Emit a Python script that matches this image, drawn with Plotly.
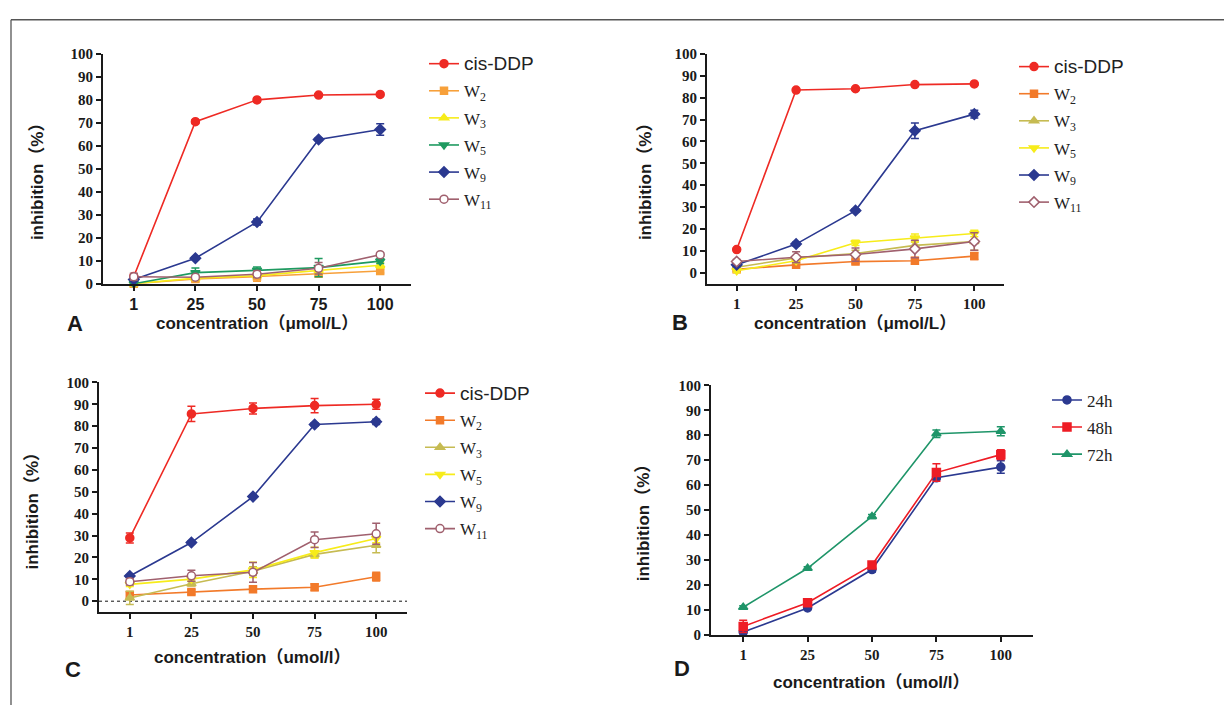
import plotly.graph_objects as go

W, H = 1224, 713
conc_labels = ["1", "25", "50", "75", "100"]
y_ticks = [0, 10, 20, 30, 40, 50, 60, 70, 80, 90, 100]

# ---------------- Panel A ----------------
a_cis = [3.1, 70.5, 80.0, 82.1, 82.4]
a_cis_err = [1.0, 0.8, 0.8, 0.6, 0.6]
a_w2 = [0.0, 2.0, 3.1, 4.3, 5.5]
a_w2_err = [0.5, 1.0, 2.0, 1.0, 0.8]
a_w3 = [0.0, 2.4, 3.5, 5.8, 8.0]
a_w3_err = [0.5, 1.0, 1.0, 1.5, 1.2]
a_w5 = [0.0, 4.8, 5.8, 7.0, 9.8]
a_w5_err = [0.5, 2.0, 1.5, 4.0, 1.0]
a_w9 = [1.8, 11.1, 26.8, 62.8, 67.1]
a_w9_err = [0.5, 0.6, 1.3, 0.6, 2.5]
a_w11 = [3.0, 2.8, 4.1, 6.7, 12.6]
a_w11_err = [1.5, 1.0, 1.5, 2.5, 0.8]

# ---------------- Panel B ----------------
b_cis = [10.6, 83.5, 84.1, 86.0, 86.3]
b_cis_err = [0.6, 0.6, 0.6, 0.5, 0.5]
b_w2 = [1.6, 3.6, 5.1, 5.5, 7.6]
b_w2_err = [0.8, 0.8, 1.0, 1.5, 1.5]
b_w3 = [2.5, 6.8, 8.8, 12.5, 14.3]
b_w3_err = [1.0, 1.0, 1.5, 1.5, 4.0]
b_w5 = [0.9, 5.5, 13.7, 15.9, 17.9]
b_w5_err = [0.8, 1.0, 1.2, 1.8, 1.5]
b_w9 = [3.6, 13.1, 28.4, 64.9, 72.5]
b_w9_err = [0.8, 0.8, 0.8, 3.5, 1.8]
b_w11 = [5.1, 7.1, 8.3, 10.9, 14.3]
b_w11_err = [1.0, 2.5, 3.0, 4.0, 4.0]

# ---------------- Panel C ----------------
c_cis = [28.9, 85.6, 88.1, 89.4, 90.0]
c_cis_err = [2.3, 3.5, 2.5, 3.3, 2.3]
c_w2 = [2.8, 4.2, 5.5, 6.4, 11.2]
c_w2_err = [1.5, 1.0, 1.0, 1.5, 2.0]
c_w3 = [1.5, 8.0, 13.7, 21.4, 25.6]
c_w3_err = [3.0, 1.0, 2.0, 1.5, 3.5]
c_w5 = [7.7, 10.1, 14.3, 22.2, 28.7]
c_w5_err = [1.0, 1.0, 3.5, 2.5, 2.0]
c_w9 = [11.5, 26.8, 47.8, 80.8, 82.0]
c_w9_err = [0.6, 0.6, 0.8, 0.8, 1.2]
c_w11 = [8.9, 11.6, 13.2, 28.1, 30.8]
c_w11_err = [1.5, 2.5, 4.5, 3.5, 4.8]

# ---------------- Panel D ----------------
d_24h = [1.0, 10.7, 26.1, 62.9, 67.2]
d_24h_err = [0.8, 0.6, 1.0, 0.8, 2.5]
d_48h = [3.3, 12.8, 27.9, 65.0, 72.2]
d_48h_err = [2.5, 1.0, 1.0, 3.5, 2.0]
d_72h = [11.0, 26.6, 47.4, 80.6, 81.6]
d_72h_err = [0.6, 0.6, 0.8, 1.5, 1.8]

RED = "#ee2a24"
ORANGE_A = "#f7a03a"
ORANGE = "#f27a2a"
YELLOW = "#f7ec1a"
OLIVE = "#c6bb52"
GREEN = "#1f9a60"
NAVY = "#2b3990"
MAUVE = "#a0606e"
GREEN_D = "#1f9569"

CIS = '<span style="font-family:Liberation Sans, Arial, sans-serif;font-size:19px">cis-DDP</span>'


def sub(n):
    return "W<sub>%s</sub>" % n


fig = go.Figure()


def add(panel, name, ys, errs, color, symbol, legend, group, size=8, fill=True):
    xa = "x" if panel == 1 else "x%d" % panel
    ya = "y" if panel == 1 else "y%d" % panel
    fig.add_trace(go.Scatter(
        x=conc_labels, y=ys, name=name, mode="lines+markers",
        xaxis=xa, yaxis=ya, legend=legend, legendgroup=group,
        line=dict(color=color, width=1.6),
        marker=dict(symbol=symbol, size=size, color=color if fill else "white",
                    line=dict(color=color, width=1.5)),
        error_y=dict(type="data", array=errs, visible=True, color=color,
                     thickness=1.5, width=4),
        cliponaxis=False,
    ))


# Panel A
add(1, CIS, a_cis, a_cis_err, RED, "circle", "legend", "a1")
add(1, sub(2), a_w2, a_w2_err, ORANGE_A, "square", "legend", "a2", size=7)
add(1, sub(3), a_w3, a_w3_err, YELLOW, "triangle-up", "legend", "a3")
add(1, sub(5), a_w5, a_w5_err, GREEN, "triangle-down", "legend", "a4")
add(1, sub(9), a_w9, a_w9_err, NAVY, "diamond", "legend", "a5", size=8)
add(1, sub(11), a_w11, a_w11_err, MAUVE, "circle", "legend", "a6", fill=False)
# Panel B
add(2, CIS, b_cis, b_cis_err, RED, "circle", "legend2", "b1")
add(2, sub(2), b_w2, b_w2_err, ORANGE, "square", "legend2", "b2", size=7)
add(2, sub(3), b_w3, b_w3_err, OLIVE, "triangle-up", "legend2", "b3")
add(2, sub(5), b_w5, b_w5_err, YELLOW, "triangle-down", "legend2", "b4")
add(2, sub(9), b_w9, b_w9_err, NAVY, "diamond", "legend2", "b5", size=8)
add(2, sub(11), b_w11, b_w11_err, MAUVE, "diamond", "legend2", "b6", size=8, fill=False)
# Panel C
add(3, CIS, c_cis, c_cis_err, RED, "circle", "legend3", "c1")
add(3, sub(2), c_w2, c_w2_err, ORANGE, "square", "legend3", "c2", size=7)
add(3, sub(3), c_w3, c_w3_err, OLIVE, "triangle-up", "legend3", "c3")
add(3, sub(5), c_w5, c_w5_err, YELLOW, "triangle-down", "legend3", "c4")
add(3, sub(9), c_w9, c_w9_err, NAVY, "diamond", "legend3", "c5", size=8)
add(3, sub(11), c_w11, c_w11_err, MAUVE, "circle", "legend3", "c6", fill=False)
# Panel D
add(4, "24h", d_24h, d_24h_err, NAVY, "circle", "legend4", "d1")
add(4, "48h", d_48h, d_48h_err, "#ee1c25", "square", "legend4", "d2")
add(4, "72h", d_72h, d_72h_err, GREEN_D, "triangle-up", "legend4", "d3")


def px_x(v):
    return v / W


def px_y(v):
    return 1 - v / H


SERIF_B = dict(family="Liberation Serif, Times New Roman, serif", size=15, color="#1a1a1a", weight="bold")
SANS_B = dict(family="Liberation Sans, Arial, sans-serif", size=16, color="#1a1a1a", weight="bold")


def xax(domain, anchor, tickfont):
    return dict(domain=[px_x(domain[0]), px_x(domain[1])], anchor=anchor, type="category",
                range=[-0.5, 4.5], showline=True, linewidth=2, linecolor="#1a1a1a",
                ticks="outside", ticklen=5, tickwidth=2, tickcolor="#1a1a1a",
                showgrid=False, zeroline=False, tickfont=tickfont, fixedrange=True)


def yax(domain, anchor, rng):
    return dict(domain=[px_y(domain[1]), px_y(domain[0])], anchor=anchor,
                range=rng, showline=True, linewidth=2, linecolor="#1a1a1a",
                ticks="outside", ticklen=5, tickwidth=2, tickcolor="#1a1a1a",
                tickvals=y_ticks, showgrid=False, zeroline=False,
                tickfont=SERIF_B, fixedrange=True)


legend_common = dict(font=dict(family="Liberation Serif, Times New Roman, serif", size=17, color="#222"),
                     bgcolor="rgba(0,0,0,0)", tracegroupgap=2, xanchor="left", yanchor="top",
                     itemclick=False, itemdoubleclick=False)

fig.update_layout(
    width=W, height=H, margin=dict(l=0, r=0, t=0, b=0),
    paper_bgcolor="white", plot_bgcolor="white", showlegend=True,
    xaxis=xax((103, 411), "y", SANS_B),
    yaxis=yax((47, 282), "x", [0, 100]),
    xaxis2=xax((707, 1004), "y2", SERIF_B),
    yaxis2=yax((47, 282), "x2", [-5, 100]),
    xaxis3=xax((99, 407), "y3", SERIF_B),
    yaxis3=yax((383, 618), "x3", [-5, 100]),
    xaxis4=xax((711, 1033), "y4", SERIF_B),
    yaxis4=yax((386, 641), "x4", [0, 100]),
    legend=dict(x=px_x(424), y=px_y(39), **legend_common),
    legend2=dict(x=px_x(1014), y=px_y(42), **legend_common),
    legend3=dict(x=px_x(420), y=px_y(376), **legend_common),
    legend4=dict(x=px_x(1047), y=px_y(383), **legend_common),
)

# dotted zero line in panel C
fig.add_shape(type="line", xref="x3", yref="y3", x0=-0.5, x1=4.5, y0=0, y1=0,
              line=dict(color="#111", width=1, dash="dot"), layer="below")

# outer frame (top and left edges)
fig.add_shape(type="line", xref="paper", yref="paper", x0=px_x(11), x1=1, y0=px_y(12), y1=px_y(12),
              line=dict(color="#555", width=1.3))
fig.add_shape(type="line", xref="paper", yref="paper", x0=px_x(11), x1=px_x(11), y0=0, y1=px_y(12),
              line=dict(color="#555", width=1.3))

TITLE_FONT = dict(family="Liberation Sans, Arial, Noto Sans CJK SC, sans-serif", size=17, color="#1a1a1a", weight="bold")
LABEL_FONT = dict(family="Liberation Sans, Arial, sans-serif", size=22, color="#1a1a1a", weight="bold")

texts = [
    ("inhibition（%）", 37, 173, -90, TITLE_FONT),
    ("concentration（μmol/L）", 257, 323, 0, TITLE_FONT),
    ("inhibition（%）", 645, 173, -90, TITLE_FONT),
    ("concentration（μmol/L）", 855, 323, 0, TITLE_FONT),
    ("inhibition（%）", 33, 510, -90, TITLE_FONT),
    ("concentration（umol/l）", 252, 664, 0, TITLE_FONT),
    ("inhibition（%）", 643, 522, -90, TITLE_FONT),
    ("concentration（umol/l）", 871, 690, 0, TITLE_FONT),
    ("A", 75, 323, 0, LABEL_FONT),
    ("B", 680, 322, 0, LABEL_FONT),
    ("C", 73, 677, 0, LABEL_FONT),
    ("D", 682, 676, 0, LABEL_FONT),
]
for t, x, y, ang, f in texts:
    fig.add_annotation(text=t, x=px_x(x), y=px_y(y), xref="paper", yref="paper",
                       showarrow=False, textangle=ang, font=f, xanchor="center", yanchor="middle")

fig.write_html("out.html", config={"displayModeBar": False},
               post_script="document.body.style.margin='0';document.body.style.padding='0';"
                           "document.body.style.overflow='hidden';")
